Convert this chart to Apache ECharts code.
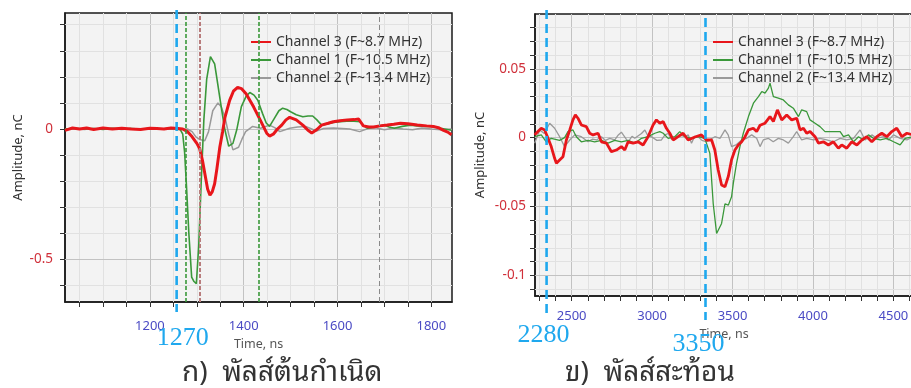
<!DOCTYPE html>
<html><head><meta charset="utf-8">
<script src="https://cdn.jsdelivr.net/npm/echarts@6/dist/echarts.min.js"></script>
<style>html,body{margin:0;padding:0;background:#fff}#c{width:911px;height:388px}</style>
</head><body><div id="c"></div>
<script>
// ---------- names ----------
const seriesNames = ['Channel 3 (F~8.7 MHz)', 'Channel 1 (F~10.5 MHz)', 'Channel 2 (F~13.4 MHz)'];
const seriesColors = ['#e8161b', '#3a983a', '#9a9a9a'];

// ---------- left panel (source pulse) : [time ns, amplitude nC] ----------
const ch3Left = [[1019,-0.005],[1035,0.004],[1050,0],[1065,0.004],[1080,-0.002],[1100,0.004],[1120,0],[1140,0.003],[1160,0],[1180,-0.002],[1200,0.003],[1215,0.002],[1230,0],[1245,0.004],[1260,0.002],[1270,0],[1280,-0.01],[1290,-0.03],[1300,-0.055],[1306,-0.075],[1312,-0.12],[1318,-0.18],[1323,-0.23],[1328,-0.254],[1333,-0.24],[1338,-0.21],[1343,-0.15],[1349,-0.07],[1355,-0.01],[1360,0.045],[1370,0.11],[1378,0.145],[1387,0.16],[1395,0.155],[1405,0.135],[1413,0.11],[1421,0.085],[1435,0.035],[1449,-0.016],[1455,-0.027],[1463,-0.02],[1472,0],[1481,0.015],[1490,0.035],[1498,0.045],[1512,0.035],[1526,0.015],[1537,-0.005],[1545,-0.015],[1556,-0.002],[1566,0.015],[1580,0.022],[1591,0.028],[1605,0.032],[1621,0.035],[1635,0.036],[1645,0.038],[1650,0.025],[1655,0.012],[1667,0.008],[1677,0.008],[1690,0.012],[1706,0.015],[1720,0.018],[1734,0.022],[1750,0.02],[1770,0.015],[1790,0.012],[1804,0.01],[1815,0.005],[1826,-0.005],[1835,-0.012],[1843,-0.022]];
const ch1Left = [[1019,0],[1040,0.003],[1060,0],[1080,0.002],[1100,-0.002],[1120,0.003],[1140,0],[1160,0.002],[1180,0],[1200,0.002],[1220,0],[1240,0.002],[1255,0],[1265,-0.003],[1270,-0.02],[1274,-0.09],[1278,-0.22],[1283,-0.4],[1289,-0.568],[1294,-0.585],[1299,-0.593],[1304,-0.45],[1309,-0.22],[1315,0.035],[1321,0.19],[1329,0.278],[1338,0.25],[1344,0.18],[1349,0.12],[1355,0.05],[1360,-0.004],[1368,-0.066],[1377,-0.055],[1385,-0.004],[1395,0.086],[1405,0.125],[1413,0.14],[1422,0.13],[1430,0.11],[1440,0.06],[1448,0.023],[1455,0.01],[1465,0.04],[1475,0.07],[1483,0.08],[1492,0.075],[1500,0.066],[1512,0.055],[1526,0.047],[1537,0.05],[1547,0.05],[1556,0.035],[1566,0.015],[1580,0.02],[1591,0.025],[1605,0.028],[1620,0.03],[1635,0.03],[1649,0.028],[1656,0.012],[1664,0.003],[1680,0.008],[1698,0.015],[1710,0.008],[1721,0.003],[1738,0.01],[1755,0.015],[1770,0.012],[1790,0.01],[1804,0.01],[1820,0.003],[1843,-0.005]];
const ch2Left = [[1019,0],[1040,0.002],[1060,-0.002],[1080,0.002],[1100,0],[1120,0.002],[1140,-0.002],[1160,0.002],[1180,0],[1200,0.002],[1220,0],[1240,0.002],[1260,0],[1280,0],[1290,-0.01],[1298,-0.03],[1306,-0.04],[1317,-0.045],[1325,-0.01],[1334,0.07],[1345,0.1],[1352,0.085],[1360,0.045],[1368,-0.02],[1377,-0.08],[1389,-0.07],[1396,-0.04],[1404,-0.01],[1419,0.01],[1436,0.003],[1455,0.015],[1466,0.005],[1477,-0.01],[1498,0.003],[1515,0.008],[1532,0.01],[1545,0],[1555,-0.008],[1570,0.002],[1591,0.004],[1610,0.002],[1626,0],[1647,-0.01],[1665,0.002],[1680,0.005],[1700,-0.003],[1720,0.004],[1740,0],[1760,-0.003],[1780,0.004],[1800,0],[1820,-0.003],[1843,0]];

// ---------- right panel (reflected pulse) ----------
const ch3Right = [[2270,0.002],[2290,0.0044],[2311,0.0068],[2332,0.0056],[2353,-0.0005],[2373,-0.0065],[2394,-0.015],[2405,-0.0186],[2425,-0.0162],[2446,-0.0138],[2467,-0.0017],[2488,0.0056],[2508,0.0129],[2523,0.0165],[2539,0.0141],[2560,0.0092],[2591,0.008],[2612,0.0032],[2633,0.002],[2664,0.0032],[2685,-0.003],[2716,-0.004],[2747,-0.0102],[2778,-0.009],[2809,-0.0065],[2830,-0.009],[2851,-0.003],[2882,-0.004],[2913,-0.003],[2944,-0.0053],[2975,0.0007],[3006,0.0092],[3027,0.0129],[3048,0.0105],[3069,0.0117],[3089,0.0068],[3110,0.0032],[3131,-0.0017],[3162,0.0007],[3193,0.0032],[3224,-0.0017],[3266,0.0005],[3307,0.002],[3339,-0.0017],[3370,-0.0017],[3390,-0.009],[3411,-0.0235],[3432,-0.0344],[3453,-0.0357],[3474,-0.028],[3494,-0.016],[3515,-0.009],[3536,-0.0053],[3557,-0.003],[3578,0.0007],[3599,0.0056],[3629,0.0068],[3650,0.0044],[3671,0.009],[3702,0.0105],[3733,0.0153],[3754,0.0117],[3779,0.0202],[3806,0.0129],[3837,0.0165],[3868,0.0129],[3899,0.0141],[3920,0.0056],[3941,0.0068],[3961,0.0032],[3982,0.0044],[4013,0.0007],[4034,-0.004],[4065,-0.003],[4096,-0.0053],[4127,-0.003],[4158,-0.0077],[4179,-0.0053],[4210,-0.0077],[4241,-0.003],[4273,-0.0053],[4304,-0.0017],[4335,0.0007],[4366,-0.003],[4397,0.0007],[4428,0.0032],[4459,0.0007],[4490,0.0044],[4521,0.0068],[4553,0.0007],[4584,0.0032],[4622,0.002]];
const ch1Right = [[2270,0.0007],[2311,0.002],[2342,-0.003],[2373,-0.0005],[2425,-0.002],[2456,0],[2477,0.0044],[2508,0.0056],[2529,0.0007],[2560,-0.003],[2602,-0.002],[2643,-0.003],[2685,-0.002],[2726,-0.004],[2768,-0.002],[2809,-0.003],[2851,-0.002],[2892,-0.004],[2934,-0.0005],[2975,0.0007],[3017,0.0032],[3048,0.0044],[3069,0.0032],[3100,-0.0005],[3141,0.0007],[3172,0.0044],[3204,0.0007],[3245,-0.0005],[3286,0.0007],[3328,-0.0005],[3339,-0.001],[3359,-0.0114],[3380,-0.048],[3401,-0.0696],[3432,-0.0623],[3453,-0.048],[3474,-0.049],[3494,-0.043],[3505,-0.033],[3525,-0.0186],[3546,-0.0065],[3567,0.0032],[3599,0.0153],[3630,0.025],[3661,0.0298],[3682,0.0335],[3702,0.0323],[3723,0.036],[3733,0.0396],[3754,0.0298],[3785,0.0287],[3816,0.0274],[3847,0.0238],[3878,0.0214],[3910,0.0153],[3930,0.0202],[3961,0.0189],[3982,0.0129],[4013,0.0105],[4044,0.008],[4075,0.0044],[4127,0.0044],[4169,0.0044],[4190,0.0007],[4221,0.002],[4252,-0.003],[4283,0.0007],[4314,-0.0017],[4345,0.002],[4376,-0.0005],[4418,-0.0017],[4459,-0.0005],[4501,-0.003],[4542,-0.0053],[4573,-0.0005],[4622,0.0007]];
const ch2Right = [[2270,-0.004],[2301,0.0056],[2330,0.003],[2363,0.0105],[2394,0.0068],[2425,0.0007],[2456,-0.0065],[2488,-0.0017],[2519,0.002],[2560,0.0007],[2602,-0.003],[2630,-0.001],[2654,-0.0017],[2685,0.0007],[2710,-0.002],[2737,-0.0005],[2768,-0.0017],[2790,0.002],[2809,0.004],[2851,-0.003],[2875,0.001],[2892,-0.0005],[2934,0.003],[2955,0.0056],[2975,0.001],[2996,0.0007],[3030,-0.002],[3058,-0.0017],[3080,0.002],[3100,0.003],[3120,-0.001],[3141,-0.0005],[3170,0.002],[3204,0.0007],[3225,0.002],[3245,-0.004],[3265,0.001],[3286,0.0007],[3310,-0.002],[3339,-0.003],[3390,0.0007],[3422,-0.0005],[3453,0.0056],[3473,0.002],[3494,-0.0065],[3525,-0.005],[3557,-0.0017],[3588,-0.0005],[3619,0.002],[3650,-0.0005],[3671,-0.0065],[3691,-0.0017],[3722,-0.0005],[3753,-0.003],[3785,-0.0005],[3816,-0.0017],[3847,-0.004],[3878,0.0007],[3899,0.0044],[3930,-0.0017],[3961,-0.0005],[4003,-0.0017],[4044,-0.0005],[4086,-0.0017],[4127,-0.003],[4169,-0.0005],[4210,-0.0017],[4252,-0.0005],[4293,0.0056],[4324,-0.0017],[4366,0.002],[4397,-0.0005],[4439,0.0007],[4470,-0.0017],[4501,0.002],[4542,-0.0005],[4584,-0.0017],[4622,0.0007]];

// ---------- axes / ticks ----------
const xRangeLeft = [1019, 1844];
const yRangeLeft = [-0.6636, 0.445];
const xTicksLeft = [1050,1100,1150,1200,1250,1300,1350,1400,1450,1500,1550,1600,1650,1700,1750,1800];
const xLabelsLeft = [1200,1400,1600,1800];
const yTicksLeft = [0.4,0.3,0.2,0.1,0,-0.1,-0.2,-0.3,-0.4,-0.5,-0.6];
const yLabelsLeft = [0,-0.5];

const xRangeRight = [2272, 4622];
const yRangeRight = [-0.115, 0.0898];
const xTicksRight = [2300,2400,2500,2600,2700,2800,2900,3000,3100,3200,3300,3400,3500,3600,3700,3800,3900,4000,4100,4200,4300,4400,4500,4600];
const xLabelsRight = [2500,3000,3500,4000,4500];
const yTicksRight = [0.08,0.07,0.06,0.05,0.04,0.03,0.02,0.01,0,-0.01,-0.02,-0.03,-0.04,-0.05,-0.06,-0.07,-0.08,-0.09,-0.1,-0.11];
const yLabelsRight = [0.05,0,-0.05,-0.1];

// ---------- markers / annotations ----------
const cursorLinesLeft = [
  {t: 1277, color: '#3a983a', width: 1.6, dash: [4, 2]},
  {t: 1306, color: '#b87c7c', width: 2, dash: [4, 2]},
  {t: 1432, color: '#3a983a', width: 1.6, dash: [4, 2]},
  {t: 1689, color: '#8a8a8a', width: 1, dash: [5, 3]}
];
const blueMarksLeft = [{t: 1257, label: '1270'}];
const blueMarksRight = [{t: 2344, label: '2280'}, {t: 3332, label: '3350'}];
const captions = ['ก)  พัลส์ต้นกำเนิด', 'ข)  พัลส์สะท้อน'];

const UI_FONT = "'Noto Sans', 'Open Sans', sans-serif";
const THAI_FONT = "'Noto Sans Thai Looped', 'Noto Looped Thai', 'Loma', 'Garuda', 'Noto Sans Thai', 'Norasi', 'Noto Sans', sans-serif";

function gridMarkLines(xTicks, xMajor, yTicks, yMajor) {
  const d = [];
  xTicks.forEach(v => d.push({xAxis: v, lineStyle: {color: xMajor.indexOf(v) >= 0 ? '#c2c2c2' : '#e1e1e1', width: 1, type: 'solid'}}));
  yTicks.forEach(v => d.push({yAxis: v, lineStyle: {color: yMajor.indexOf(v) >= 0 ? '#c2c2c2' : '#e1e1e1', width: 1, type: 'solid'}}));
  return d;
}
const plainNum = v => String(v);

function makeX(idx, range, ticks, labels) {
  return {
    type: 'value', gridIndex: idx, min: range[0], max: range[1],
    name: 'Time, ns', nameLocation: 'middle', nameGap: idx === 0 ? 30 : 28,
    nameTextStyle: {color: '#555', fontSize: 12.5, fontFamily: UI_FONT},
    axisLine: {show: true, onZero: false, lineStyle: {color: '#1a1a1a', width: 1.5}},
    axisTick: {show: true, inside: false, length: 5, customValues: ticks, lineStyle: {color: '#333'}},
    axisLabel: {show: true, customValues: labels, formatter: plainNum, margin: idx === 0 ? 18 : 14, color: '#4a4ac4', fontSize: 13, fontFamily: UI_FONT},
    splitLine: {show: false}
  };
}
function makeY(idx, range, ticks, labels) {
  return {
    type: 'value', gridIndex: idx, min: range[0], max: range[1],
    name: 'Amplitude, nC', nameLocation: 'middle', nameGap: idx === 0 ? 40 : 48, nameRotate: 90,
    nameTextStyle: {color: '#333', fontSize: 13, fontFamily: UI_FONT},
    axisLine: {show: true, onZero: false, lineStyle: {color: '#1a1a1a', width: 1.5}},
    axisTick: {show: true, inside: false, length: 5, customValues: ticks, lineStyle: {color: '#333'}},
    axisLabel: {show: true, customValues: labels, formatter: plainNum, margin: idx === 0 ? 12 : 9, color: '#d0303a', fontSize: 13.5, fontFamily: UI_FONT},
    splitLine: {show: false}
  };
}

function dataSeries(name, color, width, data, idx, z) {
  return {
    name: name, type: 'line', xAxisIndex: idx, yAxisIndex: idx, data: data,
    showSymbol: false, symbol: 'none', z: z, silent: true,
    lineStyle: {color: color, width: width}, itemStyle: {color: color}
  };
}
function legendOf(left) {
  return {data: seriesNames, orient: 'vertical', left: left, top: 35, padding: 0, itemWidth: 20, itemHeight: 12, itemGap: 4,
    itemStyle: {opacity: 0}, selectedMode: false,
    textStyle: {color: '#333', fontSize: 14, fontFamily: UI_FONT}};
}

const chart = echarts.init(document.getElementById('c'), null, {renderer: 'canvas'});
const option = {
  animation: false,
  backgroundColor: '#ffffff',
  grid: [
    {left: 65, top: 13, width: 387, height: 289, show: true, backgroundColor: '#f3f3f3', borderColor: '#1a1a1a', borderWidth: 1.5, containLabel: false, outerBoundsMode: 'none'},
    {left: 535, top: 14, right: -2, height: 282, show: true, backgroundColor: '#f3f3f3', borderColor: '#1a1a1a', borderWidth: 1.5, containLabel: false, outerBoundsMode: 'none'}
  ],
  xAxis: [makeX(0, xRangeLeft, xTicksLeft, xLabelsLeft), makeX(1, xRangeRight, xTicksRight, xLabelsRight)],
  yAxis: [makeY(0, yRangeLeft, yTicksLeft, yLabelsLeft), makeY(1, yRangeRight, yTicksRight, yLabelsRight)],
  legend: [legendOf(250), legendOf(712)],
  series: [
    {name: '_gridL', type: 'line', xAxisIndex: 0, yAxisIndex: 0, data: [], silent: true,
     markLine: {silent: true, z: 1, symbol: ['none', 'none'], label: {show: false}, animation: false,
       data: gridMarkLines(xTicksLeft, xLabelsLeft, yTicksLeft, yLabelsLeft)}},
    {name: '_gridR', type: 'line', xAxisIndex: 1, yAxisIndex: 1, data: [], silent: true,
     markLine: {silent: true, z: 1, symbol: ['none', 'none'], label: {show: false}, animation: false,
       data: gridMarkLines(xTicksRight, xLabelsRight, yTicksRight, yLabelsRight)}},
    {name: '_cursorsL', type: 'line', xAxisIndex: 0, yAxisIndex: 0, data: [], silent: true,
     markLine: {silent: true, z: 12, symbol: ['none', 'none'], label: {show: false}, animation: false,
       data: cursorLinesLeft.map(c => ({xAxis: c.t, lineStyle: {color: c.color, width: c.width, type: c.dash}}))}},
    dataSeries(seriesNames[0], seriesColors[0], 3, ch3Left, 0, 10),
    dataSeries(seriesNames[1], seriesColors[1], 1.6, ch1Left, 0, 9),
    dataSeries(seriesNames[2], seriesColors[2], 1.5, ch2Left, 0, 8),
    dataSeries(seriesNames[0], seriesColors[0], 2.8, ch3Right, 1, 10),
    dataSeries(seriesNames[1], seriesColors[1], 1.3, ch1Right, 1, 9),
    dataSeries(seriesNames[2], seriesColors[2], 1.3, ch2Right, 1, 8)
  ]
};
chart.setOption(option);

// annotation overlay positioned through the axes' own scales
const graphics = [];
const BLUE = '#1fa8ee';
const SERIF = "26px 'Liberation Serif', 'DejaVu Serif', serif";
function blueLine(gridIdx, t, y1, y2) {
  const x = chart.convertToPixel({xAxisIndex: gridIdx}, t);
  graphics.push({type: 'line', z: 100, shape: {x1: x, y1: y1, x2: x, y2: y2},
    style: {stroke: BLUE, lineWidth: 2.6, lineDash: [9, 5]}});
  return x;
}
const xl = blueLine(0, blueMarksLeft[0].t, 10, 312);
graphics.push({type: 'text', z: 100, x: xl - 20, y: 338, style: {text: blueMarksLeft[0].label, fill: BLUE, font: SERIF, textVerticalAlign: 'middle'}});
const xr1 = blueLine(1, blueMarksRight[0].t, 10, 313);
graphics.push({type: 'text', z: 100, x: xr1 - 29, y: 335, style: {text: blueMarksRight[0].label, fill: BLUE, font: SERIF, textVerticalAlign: 'middle'}});
const xr2 = blueLine(1, blueMarksRight[1].t, 18, 320);
graphics.push({type: 'text', z: 100, x: xr2 - 33, y: 344, style: {text: blueMarksRight[1].label, fill: BLUE, font: SERIF, textVerticalAlign: 'middle'}});
graphics.push({type: 'text', z: 100, x: 182, y: 373, style: {text: captions[0], fill: '#333', font: "28px " + THAI_FONT, textVerticalAlign: 'middle'}});
graphics.push({type: 'text', z: 100, x: 565, y: 373, style: {text: captions[1], fill: '#333', font: "28px " + THAI_FONT, textVerticalAlign: 'middle'}});
chart.setOption({graphic: graphics});
</script>
</body></html>
